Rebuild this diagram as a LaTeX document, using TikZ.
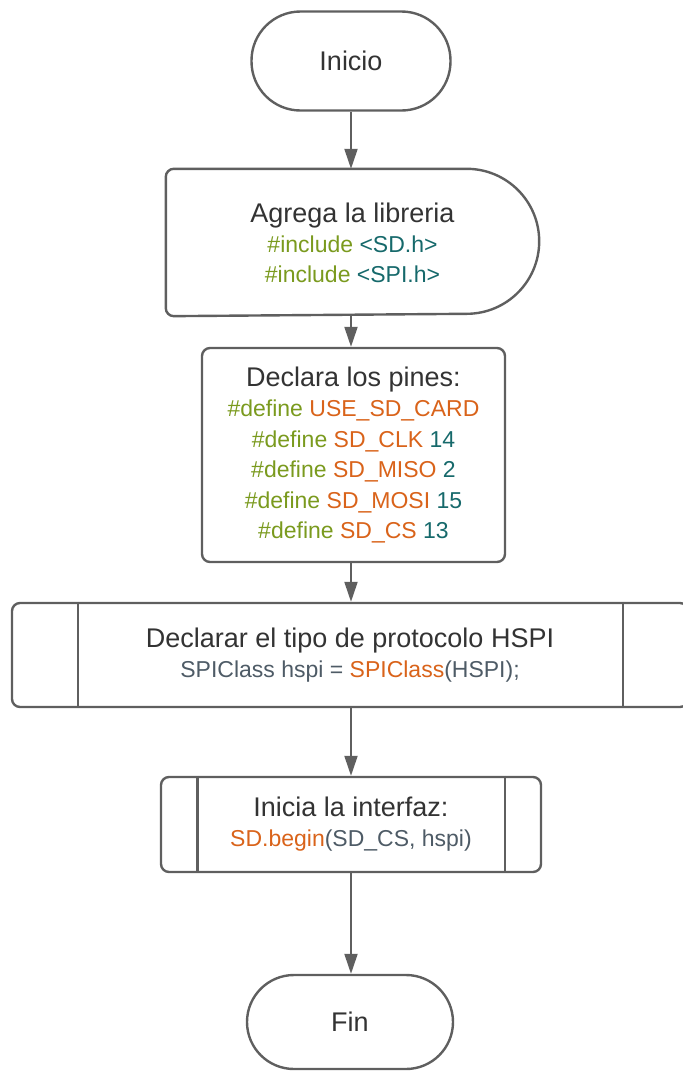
\documentclass[tikz,border=0pt]{standalone}
\usepackage{fontspec}
\setmainfont{Liberation Sans}
\usetikzlibrary{arrows.meta}

\definecolor{titel}{HTML}{333333}
\definecolor{linie}{HTML}{5F5F5F}
\definecolor{gruen}{HTML}{7A9A1E}
\definecolor{petrol}{HTML}{16696B}
\definecolor{orange}{HTML}{D9631A}
\definecolor{schiefer}{HTML}{4E5B66}

\newcommand{\gr}[1]{\textcolor{gruen}{#1}}
\newcommand{\pe}[1]{\textcolor{petrol}{#1}}
\newcommand{\orn}[1]{\textcolor{orange}{#1}}
\newcommand{\sch}[1]{\textcolor{schiefer}{#1}}
\newcommand{\gross}[1]{{\fontsize{27}{30}\selectfont\color{titel}#1}}

\begin{document}
\begin{tikzpicture}[x=1pt, y=-1pt]
  \useasboundingbox (0,0) rectangle (683,1072);

  % Stile.
  \tikzstyle{rahmen}=[draw=linie, line width=2.4pt, line join=round]
  \tikzstyle{block}=[rahmen, rounded corners=8pt, align=center,
    font=\fontsize{23}{30}\selectfont, inner sep=0pt]
  \tikzstyle{terminal}=[block, font=\fontsize{27}{30}\selectfont\color{titel}]
  \tikzstyle{pfeil}=[draw=linie, line width=2pt,
    -{Triangle[length=20pt, width=13pt]}]

  % Knoten.
  \node[terminal, rounded corners=49pt, minimum width=199pt, minimum height=99pt]
    (inicio) at (351,61) {Inicio};
  \node[block, draw=none, minimum width=371pt, minimum height=145pt]
    (agrega) at (352.5,242.5) {\gross{Agrega la libreria}\\
      \gr{\#include} \pe{<SD.h>}\\
      \gr{\#include} \pe{<SPI.h>}};
  \node[block, minimum width=303pt, minimum height=214pt,
    font=\fontsize{23}{30.5}\selectfont]
    (declara) at (353.5,455) {\gross{Declara los pines:}\\
      \gr{\#define} \orn{USE\_SD\_CARD}\\
      \gr{\#define} \orn{SD\_CLK} \pe{14}\\
      \gr{\#define} \orn{SD\_MISO} \pe{2}\\
      \gr{\#define} \orn{SD\_MOSI} \pe{15}\\
      \gr{\#define} \orn{SD\_CS} \pe{13}};
  \node[block, minimum width=676pt, minimum height=104pt]
    (hspi) at (350,655) {\gross{Declarar el tipo de protocolo HSPI}\\
      \sch{SPIClass hspi =} \orn{SPIClass}\sch{(HSPI);}};
  \node[block, minimum width=380pt, minimum height=95pt]
    (inicia) at (351,824.5) {\gross{Inicia la interfaz:}\\
      \orn{SD.begin}\sch{(SD\_CS, hspi)}};
  \node[terminal, rounded corners=47pt, minimum width=206pt, minimum height=94pt]
    (fin) at (350,1022) {Fin};

  % Rahmen Bibliothek.
  \draw[rahmen] ([xshift=-72.5pt]agrega.north east)
    arc[start angle=90, end angle=-90, radius=72.5pt]
    [rounded corners=8pt] -- (agrega.south west) -- (agrega.north west)
    -- ([xshift=-72.5pt]agrega.north east);

  % Unterprogramm-Linien.
  \draw[rahmen] ([xshift=67pt]hspi.north west) -- ([xshift=67pt]hspi.south west);
  \draw[rahmen] ([xshift=-66pt]hspi.north east) -- ([xshift=-66pt]hspi.south east);
  \draw[rahmen] ([xshift=37.5pt]inicia.north west) -- ([xshift=37.5pt]inicia.south west);
  \draw[rahmen] ([xshift=-37.5pt]inicia.north east) -- ([xshift=-37.5pt]inicia.south east);

  % Pfeile.
  \draw[pfeil] (inicio) -- (inicio |- agrega.north);
  \draw[pfeil] (agrega.south -| inicio) -- (inicio |- declara.north);
  \draw[pfeil] (declara.south -| inicio) -- (inicio |- hspi.north);
  \draw[pfeil] (hspi.south -| inicia) -- (inicia);
  \draw[pfeil] (inicia) -- (inicia |- fin.north);
\end{tikzpicture}
\end{document}
